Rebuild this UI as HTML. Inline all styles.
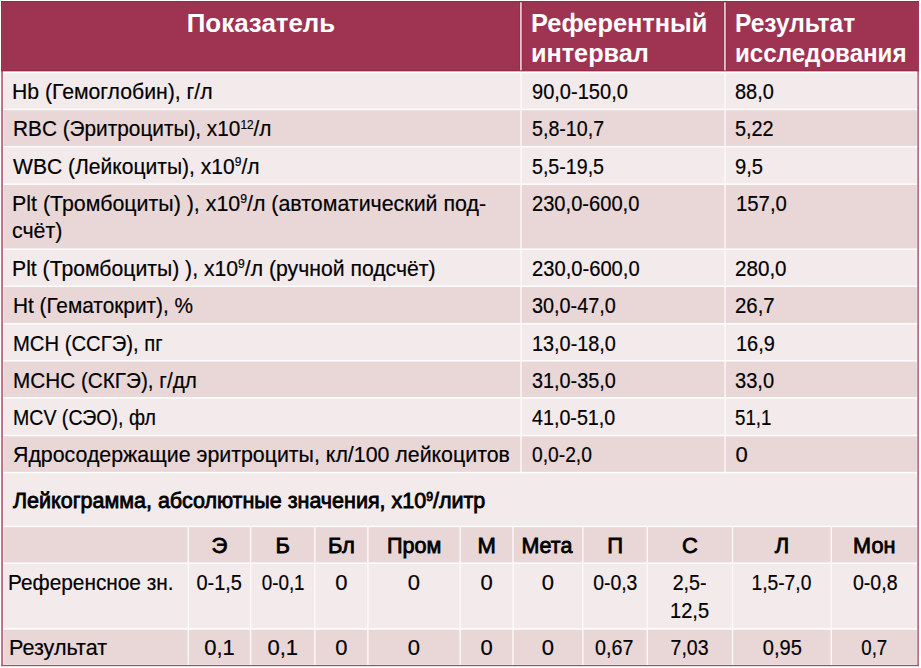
<!DOCTYPE html>
<html><head><meta charset="utf-8"><style>
html,body{margin:0;padding:0;background:#fff;}
body{width:921px;height:668px;position:relative;overflow:hidden;font-family:"Liberation Sans",sans-serif;}
svg{position:absolute;left:0;top:0;}
.t{position:absolute;white-space:nowrap;color:#000;width:max-content;-webkit-text-stroke:0.2px currentColor;}
sup{font-size:0.57em;vertical-align:0;position:relative;top:-0.62em;line-height:0;}
</style></head><body>
<svg width="921" height="668" viewBox="0 0 921 668"><rect x="0" y="0" width="921" height="668" fill="#fff"/><rect x="1.2" y="1" width="917.7" height="665.1" fill="#b0607a"/><rect x="1.2" y="664.8" width="917.7" height="1.3" fill="#a84d68"/><rect x="2.9" y="1" width="914.4" height="663.8" fill="#fff"/><rect x="1" y="1" width="917.9" height="70.2" fill="#9e3452"/><rect x="1" y="1" width="917.9" height="1.1" fill="#962a49"/><rect x="1" y="70" width="917.9" height="1.2" fill="#962a49"/><rect x="519.4" y="2" width="0.8" height="68.5" fill="#962a49"/><rect x="520.1" y="2.3" width="1.8" height="68" fill="#ebd6dd"/><rect x="521.8" y="2" width="0.8" height="68.5" fill="#962a49"/><rect x="723.4" y="2" width="0.8" height="68.5" fill="#962a49"/><rect x="724.1" y="2.3" width="1.8" height="68" fill="#ebd6dd"/><rect x="725.8" y="2" width="0.8" height="68.5" fill="#962a49"/><rect x="3.4" y="73.35" width="913.5" height="35.30" fill="#f3eaeb"/><rect x="3.4" y="110.15" width="913.5" height="35.80" fill="#e9d7d8"/><rect x="3.4" y="147.45" width="913.5" height="36.00" fill="#f3eaeb"/><rect x="3.4" y="184.95" width="913.5" height="63.50" fill="#e9d7d8"/><rect x="3.4" y="249.95" width="913.5" height="35.60" fill="#f3eaeb"/><rect x="3.4" y="287.05" width="913.5" height="35.90" fill="#e9d7d8"/><rect x="3.4" y="324.45" width="913.5" height="35.60" fill="#f3eaeb"/><rect x="3.4" y="361.55" width="913.5" height="35.60" fill="#e9d7d8"/><rect x="3.4" y="398.65" width="913.5" height="36.10" fill="#f3eaeb"/><rect x="3.4" y="436.25" width="913.5" height="35.60" fill="#e9d7d8"/><rect x="3.4" y="473.35" width="913.5" height="52.30" fill="#f3eaeb"/><rect x="3.4" y="527.15" width="913.5" height="35.30" fill="#e9d7d8"/><rect x="3.4" y="563.95" width="913.5" height="64.20" fill="#f3eaeb"/><rect x="3.4" y="629.65" width="913.5" height="34.75" fill="#e9d7d8"/><rect x="520.30" y="72" width="1.4" height="400.60" fill="#fdf9fa"/><rect x="724.30" y="72" width="1.4" height="400.60" fill="#fdf9fa"/><rect x="187.60" y="526.4" width="1.4" height="138.60" fill="#fdf9fa"/><rect x="249.90" y="526.4" width="1.4" height="138.60" fill="#fdf9fa"/><rect x="314.20" y="526.4" width="1.4" height="138.60" fill="#fdf9fa"/><rect x="367.20" y="526.4" width="1.4" height="138.60" fill="#fdf9fa"/><rect x="459.40" y="526.4" width="1.4" height="138.60" fill="#fdf9fa"/><rect x="512.30" y="526.4" width="1.4" height="138.60" fill="#fdf9fa"/><rect x="582.10" y="526.4" width="1.4" height="138.60" fill="#fdf9fa"/><rect x="646.60" y="526.4" width="1.4" height="138.60" fill="#fdf9fa"/><rect x="731.80" y="526.4" width="1.4" height="138.60" fill="#fdf9fa"/><rect x="830.60" y="526.4" width="1.4" height="138.60" fill="#fdf9fa"/></svg>
<div class="t" id="t0" style="left:1.31px;top:8.04px;font-size:25px;line-height:30px;font-weight:bold;-webkit-text-stroke:0;color:#fff;transform:scaleX(1.0356);transform-origin:50% 50%;width:520.00px;text-align:center;">Показатель</div>
<div class="t" id="t1" style="left:530.64px;top:8.04px;font-size:25px;line-height:30px;font-weight:bold;-webkit-text-stroke:0;color:#fff;transform:scaleX(1.0152);transform-origin:0 50%;">Референтный</div>
<div class="t" id="t2" style="left:530.95px;top:37.74px;font-size:25px;line-height:30px;font-weight:bold;-webkit-text-stroke:0;color:#fff;transform:scaleX(1.0096);transform-origin:0 50%;">интервал</div>
<div class="t" id="t3" style="left:735.41px;top:8.04px;font-size:25px;line-height:30px;font-weight:bold;-webkit-text-stroke:0;color:#fff;transform:scaleX(0.9791);transform-origin:0 50%;">Результат</div>
<div class="t" id="t4" style="left:734.95px;top:37.74px;font-size:25px;line-height:30px;font-weight:bold;-webkit-text-stroke:0;color:#fff;transform:scaleX(0.9648);transform-origin:0 50%;">исследования</div>
<div class="t" id="t5" style="left:12.31px;top:77.98px;font-size:22px;line-height:27px;transform:scaleX(0.9640);transform-origin:0 50%;">Hb (Гемоглобин), г/л</div>
<div class="t" id="t6" style="left:531.60px;top:77.98px;font-size:22px;line-height:27px;transform:scaleX(0.9114);transform-origin:0 50%;">90,0-150,0</div>
<div class="t" id="t7" style="left:735.19px;top:77.98px;font-size:22px;line-height:27px;transform:scaleX(0.9073);transform-origin:0 50%;">88,0</div>
<div class="t" id="t8" style="left:12.57px;top:115.38px;font-size:22px;line-height:27px;transform:scaleX(0.9452);transform-origin:0 50%;">RBC (Эритроциты), x10<sup>12</sup>/л</div>
<div class="t" id="t9" style="left:531.73px;top:115.38px;font-size:22px;line-height:27px;transform:scaleX(0.8931);transform-origin:0 50%;">5,8-10,7</div>
<div class="t" id="t10" style="left:735.47px;top:115.38px;font-size:22px;line-height:27px;transform:scaleX(0.9023);transform-origin:0 50%;">5,22</div>
<div class="t" id="t11" style="left:13.43px;top:152.68px;font-size:22px;line-height:27px;transform:scaleX(0.9575);transform-origin:0 50%;">WBC (Лейкоциты), x10<sup>9</sup>/л</div>
<div class="t" id="t12" style="left:531.56px;top:152.68px;font-size:22px;line-height:27px;transform:scaleX(0.8920);transform-origin:0 50%;">5,5-19,5</div>
<div class="t" id="t13" style="left:735.28px;top:152.68px;font-size:22px;line-height:27px;transform:scaleX(0.9153);transform-origin:0 50%;">9,5</div>
<div class="t" id="t14" style="left:12.37px;top:190.18px;font-size:22px;line-height:27px;transform:scaleX(0.9721);transform-origin:0 50%;">Plt (Тромбоциты) ), x10<sup>9</sup>/л (автоматический под-</div>
<div class="t" id="t15" style="left:531.50px;top:190.18px;font-size:22px;line-height:27px;transform:scaleX(0.9142);transform-origin:0 50%;">230,0-600,0</div>
<div class="t" id="t16" style="left:735.81px;top:190.18px;font-size:22px;line-height:27px;transform:scaleX(0.9231);transform-origin:0 50%;">157,0</div>
<div class="t" id="t17" style="left:12.30px;top:216.98px;font-size:22px;line-height:27px;transform:scaleX(0.9716);transform-origin:0 50%;">счёт)</div>
<div class="t" id="t18" style="left:12.33px;top:255.18px;font-size:22px;line-height:27px;transform:scaleX(0.9632);transform-origin:0 50%;">Plt (Тромбоциты) ), x10<sup>9</sup>/л (ручной подсчёт)</div>
<div class="t" id="t19" style="left:531.60px;top:255.18px;font-size:22px;line-height:27px;transform:scaleX(0.9168);transform-origin:0 50%;">230,0-600,0</div>
<div class="t" id="t20" style="left:734.78px;top:255.18px;font-size:22px;line-height:27px;transform:scaleX(0.9369);transform-origin:0 50%;">280,0</div>
<div class="t" id="t21" style="left:12.57px;top:292.28px;font-size:22px;line-height:27px;transform:scaleX(0.9454);transform-origin:0 50%;">Ht (Гематокрит), %</div>
<div class="t" id="t22" style="left:531.56px;top:292.28px;font-size:22px;line-height:27px;transform:scaleX(0.9018);transform-origin:0 50%;">30,0-47,0</div>
<div class="t" id="t23" style="left:735.17px;top:292.28px;font-size:22px;line-height:27px;transform:scaleX(0.9277);transform-origin:0 50%;">26,7</div>
<div class="t" id="t24" style="left:12.81px;top:329.68px;font-size:22px;line-height:27px;transform:scaleX(0.9203);transform-origin:0 50%;">MCH (ССГЭ), пг</div>
<div class="t" id="t25" style="left:531.50px;top:329.68px;font-size:22px;line-height:27px;transform:scaleX(0.9023);transform-origin:0 50%;">13,0-18,0</div>
<div class="t" id="t26" style="left:735.79px;top:329.68px;font-size:22px;line-height:27px;transform:scaleX(0.9057);transform-origin:0 50%;">16,9</div>
<div class="t" id="t27" style="left:12.58px;top:366.78px;font-size:22px;line-height:27px;transform:scaleX(0.9418);transform-origin:0 50%;">MCHC (СКГЭ), г/дл</div>
<div class="t" id="t28" style="left:531.56px;top:366.78px;font-size:22px;line-height:27px;transform:scaleX(0.9018);transform-origin:0 50%;">31,0-35,0</div>
<div class="t" id="t29" style="left:735.48px;top:366.78px;font-size:22px;line-height:27px;transform:scaleX(0.9127);transform-origin:0 50%;">33,0</div>
<div class="t" id="t30" style="left:12.63px;top:403.88px;font-size:22px;line-height:27px;transform:scaleX(0.8886);transform-origin:0 50%;">MCV (СЭО), фл</div>
<div class="t" id="t31" style="left:532.19px;top:403.88px;font-size:22px;line-height:27px;transform:scaleX(0.8957);transform-origin:0 50%;">41,0-51,0</div>
<div class="t" id="t32" style="left:735.45px;top:403.88px;font-size:22px;line-height:27px;transform:scaleX(0.8503);transform-origin:0 50%;">51,1</div>
<div class="t" id="t33" style="left:12.57px;top:441.48px;font-size:22px;line-height:27px;transform:scaleX(0.9700);transform-origin:0 50%;">Ядросодержащие эритроциты, кл/100 лейкоцитов</div>
<div class="t" id="t34" style="left:531.85px;top:441.48px;font-size:22px;line-height:27px;transform:scaleX(0.8741);transform-origin:0 50%;">0,0-2,0</div>
<div class="t" id="t35" style="left:735.51px;top:441.48px;font-size:22px;line-height:27px;">0</div>
<div class="t" id="t36" style="left:13.46px;top:487.28px;font-size:22px;line-height:27px;-webkit-text-stroke:0.8px #000;transform:scaleX(0.9771);transform-origin:0 50%;">Лейкограмма, абсолютные значения, x10<sup>9</sup>/литр</div>
<div class="t" id="t37" style="left:188.30px;top:531.78px;font-size:22px;line-height:28px;-webkit-text-stroke:0.8px #000;width:62.30px;text-align:center;">Э</div>
<div class="t" id="t38" style="left:188.20px;top:568.98px;font-size:22px;line-height:28px;transform:scaleX(0.9077);transform-origin:50% 50%;width:62.30px;text-align:center;">0-1,5</div>
<div class="t" id="t39" style="left:188.30px;top:633.98px;font-size:22px;line-height:28px;width:62.30px;text-align:center;">0,1</div>
<div class="t" id="t40" style="left:250.60px;top:531.78px;font-size:22px;line-height:28px;-webkit-text-stroke:0.8px #000;width:64.30px;text-align:center;">Б</div>
<div class="t" id="t41" style="left:250.57px;top:568.98px;font-size:22px;line-height:28px;transform:scaleX(0.8555);transform-origin:50% 50%;width:64.30px;text-align:center;">0-0,1</div>
<div class="t" id="t42" style="left:250.60px;top:633.98px;font-size:22px;line-height:28px;width:64.30px;text-align:center;">0,1</div>
<div class="t" id="t43" style="left:314.90px;top:531.78px;font-size:22px;line-height:28px;-webkit-text-stroke:0.8px #000;width:53.00px;text-align:center;">Бл</div>
<div class="t" id="t44" style="left:314.90px;top:568.98px;font-size:22px;line-height:28px;width:53.00px;text-align:center;">0</div>
<div class="t" id="t45" style="left:314.90px;top:633.98px;font-size:22px;line-height:28px;width:53.00px;text-align:center;">0</div>
<div class="t" id="t46" style="left:367.54px;top:531.78px;font-size:22px;line-height:28px;-webkit-text-stroke:0.8px #000;transform:scaleX(0.9809);transform-origin:50% 50%;width:92.20px;text-align:center;">Пром</div>
<div class="t" id="t47" style="left:367.90px;top:568.98px;font-size:22px;line-height:28px;width:92.20px;text-align:center;">0</div>
<div class="t" id="t48" style="left:367.90px;top:633.98px;font-size:22px;line-height:28px;width:92.20px;text-align:center;">0</div>
<div class="t" id="t49" style="left:460.10px;top:531.78px;font-size:22px;line-height:28px;-webkit-text-stroke:0.8px #000;width:52.90px;text-align:center;">М</div>
<div class="t" id="t50" style="left:460.10px;top:568.98px;font-size:22px;line-height:28px;width:52.90px;text-align:center;">0</div>
<div class="t" id="t51" style="left:460.10px;top:633.98px;font-size:22px;line-height:28px;width:52.90px;text-align:center;">0</div>
<div class="t" id="t52" style="left:512.21px;top:531.78px;font-size:22px;line-height:28px;-webkit-text-stroke:0.8px #000;transform:scaleX(0.9751);transform-origin:50% 50%;width:69.80px;text-align:center;">Мета</div>
<div class="t" id="t53" style="left:513.00px;top:568.98px;font-size:22px;line-height:28px;width:69.80px;text-align:center;">0</div>
<div class="t" id="t54" style="left:513.00px;top:633.98px;font-size:22px;line-height:28px;width:69.80px;text-align:center;">0</div>
<div class="t" id="t55" style="left:582.80px;top:531.78px;font-size:22px;line-height:28px;-webkit-text-stroke:0.8px #000;width:64.50px;text-align:center;">П</div>
<div class="t" id="t56" style="left:582.80px;top:568.98px;font-size:22px;line-height:28px;transform:scaleX(0.8819);transform-origin:50% 50%;width:64.50px;text-align:center;">0-0,3</div>
<div class="t" id="t57" style="left:582.37px;top:633.98px;font-size:22px;line-height:28px;transform:scaleX(0.8936);transform-origin:50% 50%;width:64.50px;text-align:center;">0,67</div>
<div class="t" id="t58" style="left:647.30px;top:531.78px;font-size:22px;line-height:28px;-webkit-text-stroke:0.8px #000;width:85.20px;text-align:center;">С</div>
<div class="t" id="t59" style="left:647.36px;top:568.98px;font-size:22px;line-height:28px;transform:scaleX(0.8921);transform-origin:50% 50%;width:85.20px;text-align:center;">2,5-</div>
<div class="t" id="t60" style="left:647.26px;top:633.98px;font-size:22px;line-height:28px;transform:scaleX(0.8872);transform-origin:50% 50%;width:85.20px;text-align:center;">7,03</div>
<div class="t" id="t61" style="left:732.50px;top:531.78px;font-size:22px;line-height:28px;-webkit-text-stroke:0.8px #000;width:98.80px;text-align:center;">Л</div>
<div class="t" id="t62" style="left:732.03px;top:568.98px;font-size:22px;line-height:28px;transform:scaleX(0.8742);transform-origin:50% 50%;width:98.80px;text-align:center;">1,5-7,0</div>
<div class="t" id="t63" style="left:732.57px;top:633.98px;font-size:22px;line-height:28px;transform:scaleX(0.9125);transform-origin:50% 50%;width:98.80px;text-align:center;">0,95</div>
<div class="t" id="t64" style="left:831.17px;top:531.78px;font-size:22px;line-height:28px;-webkit-text-stroke:0.8px #000;transform:scaleX(0.9848);transform-origin:50% 50%;width:86.50px;text-align:center;">Мон</div>
<div class="t" id="t65" style="left:831.60px;top:568.98px;font-size:22px;line-height:28px;transform:scaleX(0.8877);transform-origin:50% 50%;width:86.50px;text-align:center;">0-0,8</div>
<div class="t" id="t66" style="left:831.35px;top:633.98px;font-size:22px;line-height:28px;transform:scaleX(0.8483);transform-origin:50% 50%;width:86.50px;text-align:center;">0,7</div>
<div class="t" id="t67" style="left:647.39px;top:596.98px;font-size:22px;line-height:28px;transform:scaleX(0.9117);transform-origin:50% 50%;width:85.20px;text-align:center;">12,5</div>
<div class="t" id="t68" style="left:8.43px;top:568.98px;font-size:22px;line-height:28px;transform:scaleX(0.9461);transform-origin:0 50%;">Референсное зн.</div>
<div class="t" id="t69" style="left:8.55px;top:633.98px;font-size:22px;line-height:28px;transform:scaleX(0.9797);transform-origin:0 50%;">Результат</div>
</body></html>
